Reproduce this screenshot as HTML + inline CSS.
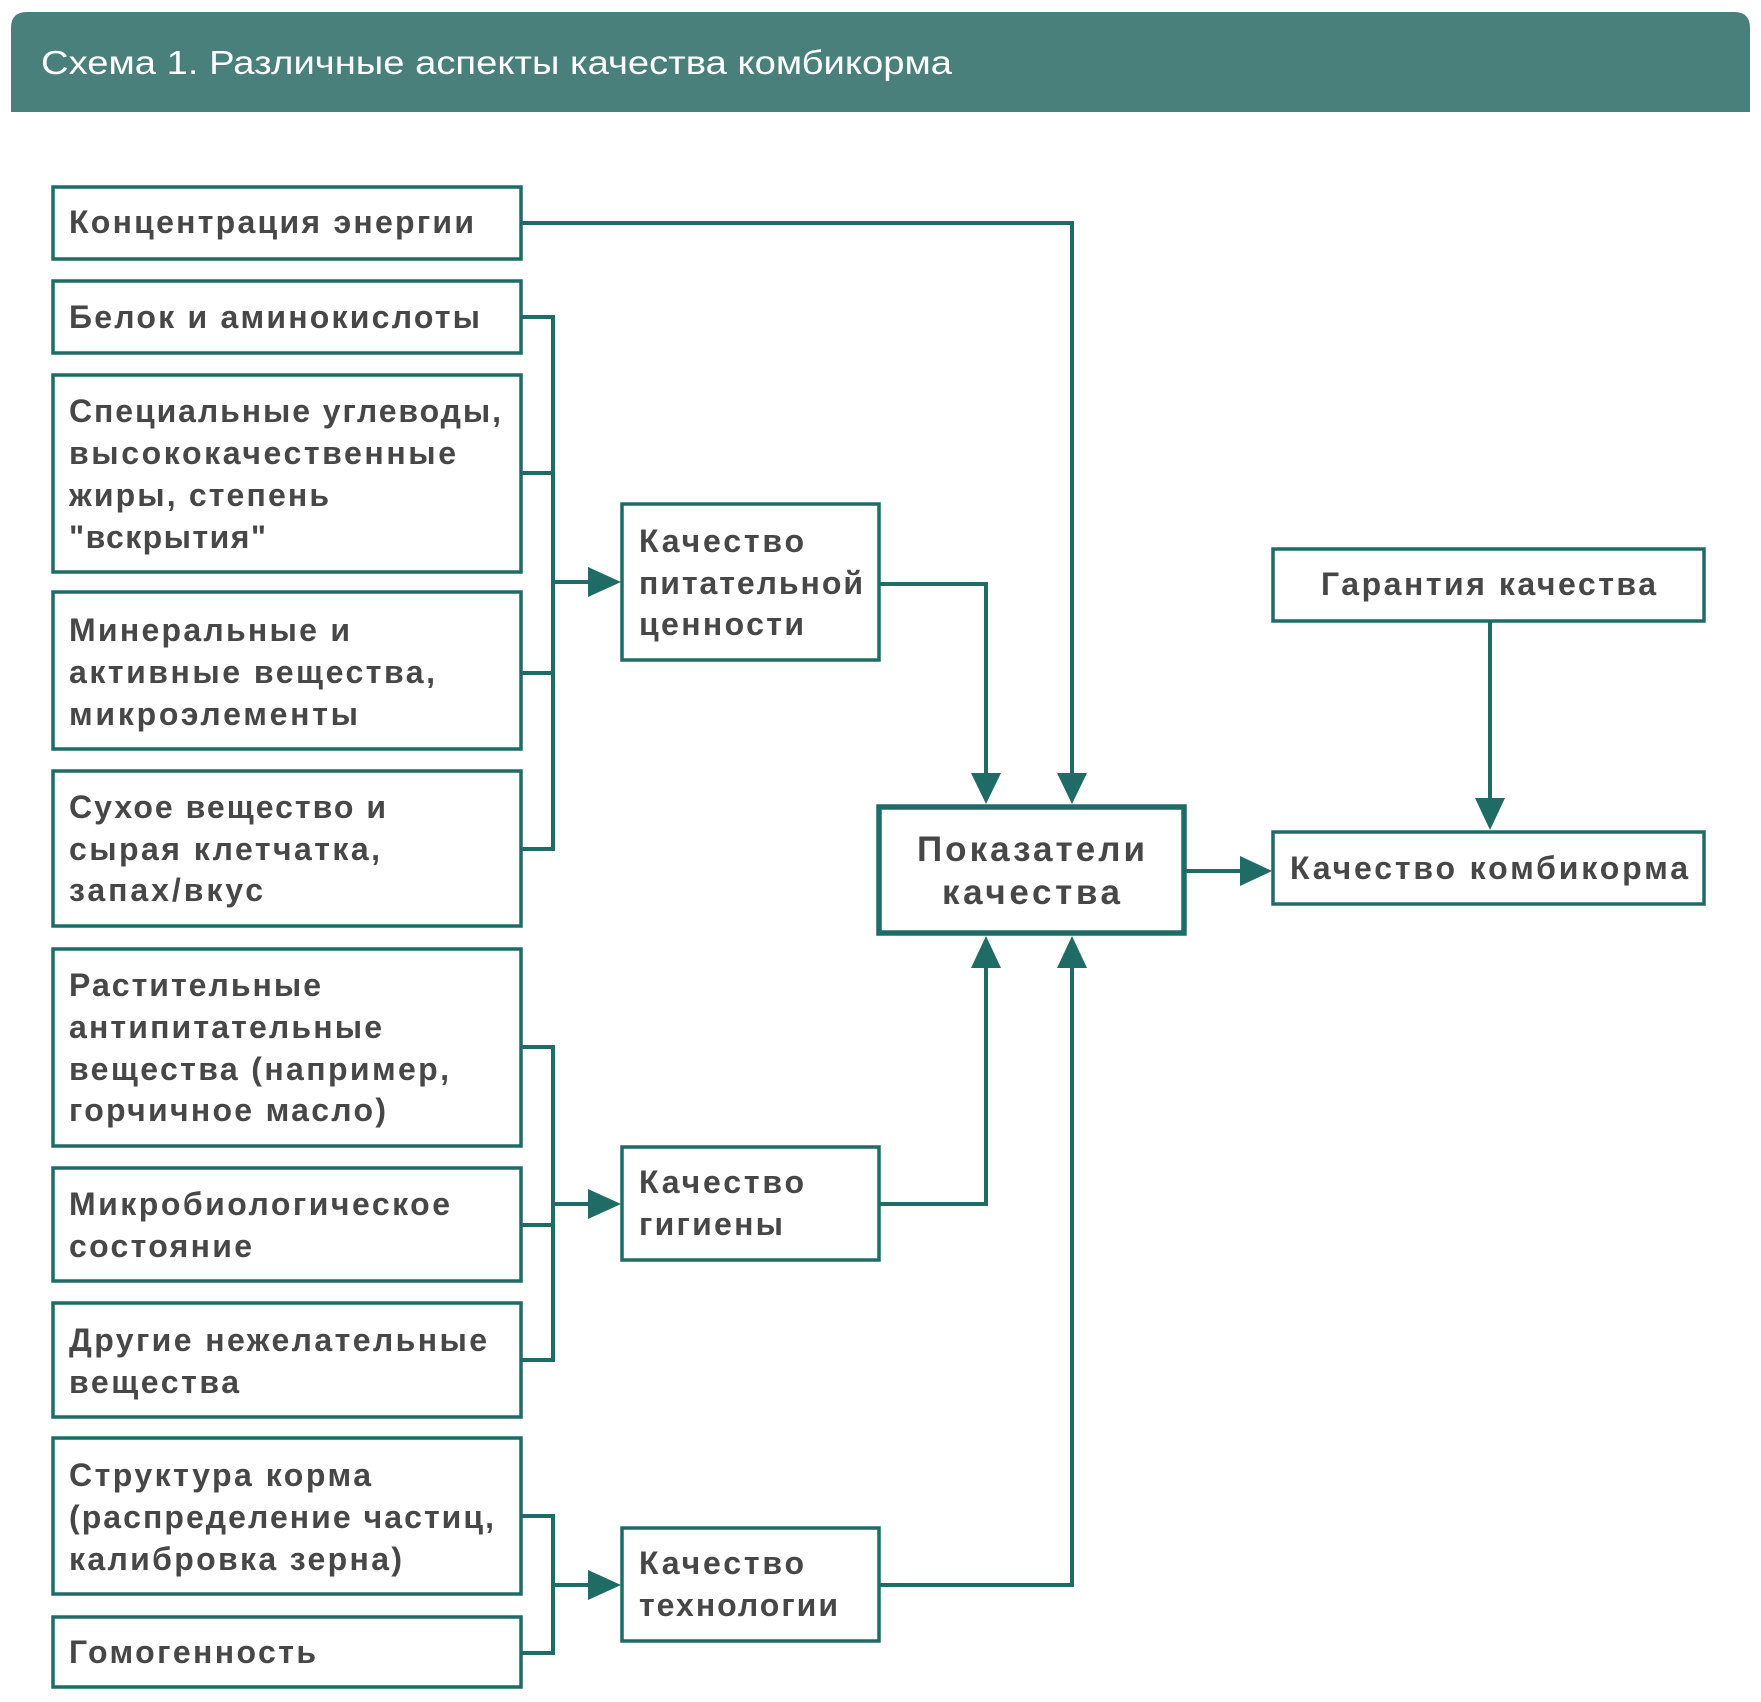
<!DOCTYPE html>
<html><head><meta charset="utf-8"><style>
html,body{margin:0;padding:0;background:#fff;}
svg{display:block}
text{font-family:"Liberation Sans",sans-serif;}
.t{font-size:32px;font-weight:bold;fill:#474747;}
</style></head><body>
<svg width="1761" height="1702" viewBox="0 0 1761 1702" xmlns="http://www.w3.org/2000/svg">
<path d="M11,112 V28 Q11,12 27,12 H1734 Q1750,12 1750,28 V112 Z" fill="#4a807c"/>
<text x="41" y="74" font-size="33" fill="#fff" textLength="911" lengthAdjust="spacingAndGlyphs">Схема 1. Различные аспекты качества комбикорма</text>
<g fill="none" stroke="#1f6b66" stroke-width="3.5">
<rect x="53" y="187" width="468" height="72"/>
<rect x="53" y="281" width="468" height="72"/>
<rect x="53" y="375" width="468" height="197"/>
<rect x="53" y="592" width="468" height="157"/>
<rect x="53" y="771" width="468" height="155"/>
<rect x="53" y="949" width="468" height="197"/>
<rect x="53" y="1168" width="468" height="113"/>
<rect x="53" y="1303" width="468" height="114"/>
<rect x="53" y="1438" width="468" height="156"/>
<rect x="53" y="1617" width="468" height="70"/>
<rect x="622" y="504" width="257" height="156"/>
<rect x="622" y="1147" width="257" height="113"/>
<rect x="622" y="1528" width="257" height="113"/>
<rect x="1273" y="549" width="431" height="72"/>
<rect x="1273" y="832" width="431" height="72"/>
<rect x="879" y="807" width="305" height="126" stroke-width="5.5"/>
<g stroke-width="4">
<polyline points="521,223 1072,223 1072,780"/>
<polyline points="521,317 553,317 553,849 521,849"/>
<line x1="521" y1="473" x2="553" y2="473"/><line x1="521" y1="673" x2="553" y2="673"/>
<line x1="553" y1="582" x2="592" y2="582"/>
<polyline points="879,584 986,584 986,780"/>
<polyline points="521,1047 553,1047 553,1360 521,1360"/>
<line x1="521" y1="1225" x2="553" y2="1225"/>
<line x1="553" y1="1204" x2="592" y2="1204"/>
<polyline points="879,1204 986,1204 986,965"/>
<polyline points="521,1516 553,1516 553,1653 521,1653"/>
<line x1="553" y1="1585" x2="592" y2="1585"/>
<polyline points="879,1585 1072,1585 1072,965"/>
<line x1="1184" y1="871" x2="1243" y2="871"/>
<line x1="1490" y1="621" x2="1490" y2="800"/>
</g></g>
<g fill="#1f6b66">
<polygon points="588,567 621,582 588,597"/>
<polygon points="588,1189 621,1204 588,1219"/>
<polygon points="588,1570 621,1585 588,1600"/>
<polygon points="971,773 1001,773 986,804"/>
<polygon points="1057,773 1087,773 1072,804"/>
<polygon points="971,968 1001,968 986,936"/>
<polygon points="1057,968 1087,968 1072,936"/>
<polygon points="1240,856 1272,871 1240,886"/>
<polygon points="1475,798 1505,798 1490,830"/>
</g>
<g class="t" lengthAdjust="spacingAndGlyphs">
<text x="69" y="233" textLength="405">Концентрация энергии</text>
<text x="69" y="328" textLength="411">Белок и аминокислоты</text>
<text x="69" y="422" textLength="432">Специальные углеводы,</text>
<text x="69" y="464" textLength="387">высококачественные</text>
<text x="69" y="506" textLength="260">жиры, степень</text>
<text x="69" y="548" textLength="197">"вскрытия"</text>
<text x="69" y="641" textLength="281">Минеральные и</text>
<text x="69" y="683" textLength="366">активные вещества,</text>
<text x="69" y="725" textLength="289">микроэлементы</text>
<text x="69" y="818" textLength="317">Сухое вещество и</text>
<text x="69" y="860" textLength="311">сырая клетчатка,</text>
<text x="69" y="901" textLength="194">запах/вкус</text>
<text x="69" y="996" textLength="252">Растительные</text>
<text x="69" y="1038" textLength="313">антипитательные</text>
<text x="69" y="1080" textLength="380">вещества (например,</text>
<text x="69" y="1121" textLength="317">горчичное масло)</text>
<text x="69" y="1215" textLength="381">Микробиологическое</text>
<text x="69" y="1257" textLength="183">состояние</text>
<text x="69" y="1351" textLength="418">Другие нежелательные</text>
<text x="69" y="1393" textLength="170">вещества</text>
<text x="69" y="1486" textLength="302">Структура корма</text>
<text x="69" y="1528" textLength="425">(распределение частиц,</text>
<text x="69" y="1570" textLength="333">калибровка зерна)</text>
<text x="69" y="1663" textLength="247">Гомогенность</text>
<text x="639" y="552" textLength="165">Качество</text>
<text x="639" y="594" textLength="224">питательной</text>
<text x="639" y="635" textLength="165">ценности</text>
<text x="639" y="1193" textLength="165">Качество</text>
<text x="639" y="1235" textLength="144">гигиены</text>
<text x="639" y="1574" textLength="165">Качество</text>
<text x="639" y="1616" textLength="199">технологии</text>
<text x="917" y="861" textLength="228" font-size="35">Показатели</text>
<text x="942" y="904" textLength="178" font-size="35">качества</text>
<text x="1321" y="595" textLength="335">Гарантия качества</text>
<text x="1290" y="879" textLength="398">Качество комбикорма</text>
</g>
</svg>
</body></html>
